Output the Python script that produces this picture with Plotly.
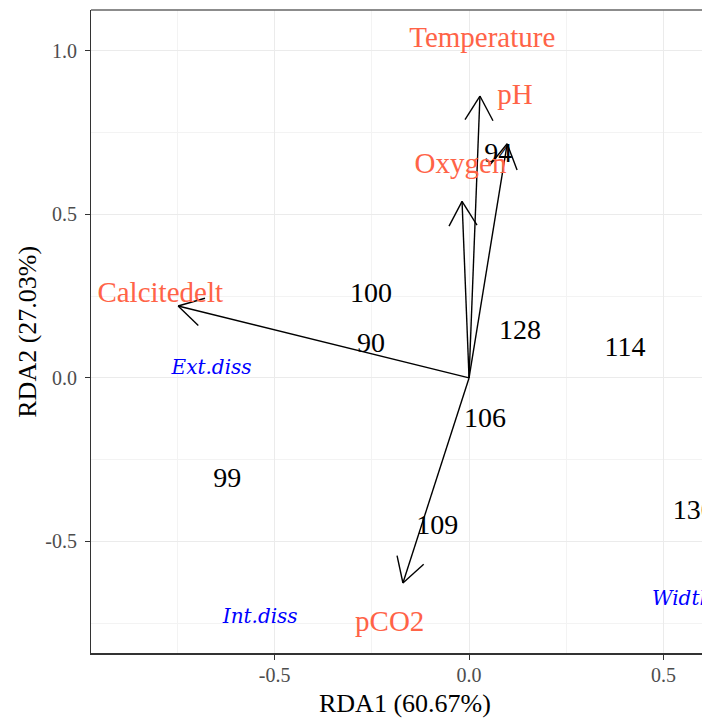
import numpy as np
import plotly.graph_objects as go

# ---- data ----
env_names = ["Temperature", "pH", "Oxygen", "Calcitedelt", "pCO2"]
env_x = [0.028, 0.098, -0.018, -0.748, -0.170]
env_y = [0.862, 0.716, 0.540, 0.220, -0.627]
env_label_x = [0.034, 0.118, -0.022, -0.794, -0.204]
env_label_y = [1.034, 0.859, 0.648, 0.254, -0.752]

site_names = ["100", "90", "128", "114", "106", "99", "109", "130", "94"]
site_x = [-0.252, -0.252, 0.131, 0.401, 0.041, -0.622, -0.082, 0.578, 0.075]
site_y = [0.254, 0.101, 0.141, 0.089, -0.128, -0.312, -0.456, -0.410, 0.682]

species_names = ["Ext.diss", "Int.diss", "Width"]
species_x = [-0.662, -0.537, 0.548]
species_y = [0.028, -0.734, -0.679]

x_ticks = [-0.5, 0.0, 0.5]
x_ticktext = ["-0.5", "0.0", "0.5"]
y_ticks = [-0.5, 0.0, 0.5, 1.0]
y_ticktext = ["-0.5", "0.0", "0.5", "1.0"]

# ---- layout geometry (page body has an 8px margin) ----
W, H = 702, 713
ML, MR, MT, MB = 83, 0, 2, 68
xr = [-0.972, 0.6195]
yr = [-0.841, 1.125]
sx = (W - ML - MR) / (xr[1] - xr[0])
sy = (H - MT - MB) / (yr[1] - yr[0])

SERIF = "Liberation Serif"

fig = go.Figure()

# arrow shafts
lx, ly = [], []
for x, y in zip(env_x, env_y):
    lx += [0, x, None]
    ly += [0, y, None]

# open arrow heads (computed in pixel space)
head_len = 28.0
ang = np.deg2rad(30)
hx, hy = [], []
for x, y in zip(env_x, env_y):
    px, py = x * sx, y * sy
    n = np.hypot(px, py)
    ux, uy = px / n, py / n
    for s in (ang, -ang):
        rx = ux * np.cos(s) - uy * np.sin(s)
        ry = ux * np.sin(s) + uy * np.cos(s)
        bx = px - head_len * rx
        by = py - head_len * ry
        hx += [bx / sx, x, None]
        hy += [by / sy, y, None]

fig.add_trace(go.Scatter(x=lx + hx, y=ly + hy, mode="lines",
                         line=dict(color="black", width=1.4),
                         hoverinfo="skip", showlegend=False))

fig.add_trace(go.Scatter(x=site_x, y=site_y, text=site_names, mode="text",
                         textposition="middle center",
                         textfont=dict(family=SERIF, size=28, color="black"),
                         showlegend=False))

fig.add_trace(go.Scatter(x=species_x, y=species_y,
                         text=["<i>%s</i>" % s for s in species_names], mode="text",
                         textposition="middle center",
                         textfont=dict(family="DejaVu Serif", size=20, color="blue"),
                         showlegend=False))

fig.add_trace(go.Scatter(x=env_label_x, y=env_label_y, text=env_names, mode="text",
                         textposition="middle center",
                         textfont=dict(family=SERIF, size=29, color="#FF6347"),
                         showlegend=False))

axis_common = dict(
    showgrid=True, gridcolor="#EBEBEB", gridwidth=1.2,
    zeroline=False, ticks="outside", ticklen=5, tickcolor="#333333", tickwidth=1.1,
    tickfont=dict(family=SERIF, size=20, color="#4D4D4D"),
    showline=True, linecolor="#333333",
)

fig.update_xaxes(range=xr, tickmode="array", tickvals=x_ticks, ticktext=x_ticktext,
                 minor=dict(tick0=0.25, dtick=0.5, showgrid=True, gridcolor="#F3F3F3",
                            gridwidth=0.7, ticks=""),
                 linewidth=2, ticklabelstandoff=-2, **axis_common)
fig.update_yaxes(range=yr, tickmode="array", tickvals=y_ticks, ticktext=y_ticktext,
                 minor=dict(tick0=0.25, dtick=0.5, showgrid=True, gridcolor="#F3F3F3",
                            gridwidth=0.7, ticks=""),
                 linewidth=1.2, ticklabelstandoff=4, **axis_common)

fig.update_layout(
    width=W, height=H,
    margin=dict(l=ML, r=MR, t=MT, b=MB, pad=0),
    plot_bgcolor="white", paper_bgcolor="white",
    shapes=[dict(type="line", xref="paper", yref="paper", x0=0, x1=1, y0=1, y1=1,
                 line=dict(color="#666666", width=1.5))],
    annotations=[
        dict(text="RDA1 (60.67%)", xref="paper", yref="paper", x=0.507, y=-0.079,
             xanchor="center", yanchor="middle", showarrow=False,
             font=dict(family=SERIF, size=26, color="black")),
        dict(text="RDA2 (27.03%)", xref="paper", yref="paper", x=-0.103, y=0.5,
             xanchor="center", yanchor="middle", showarrow=False, textangle=-90,
             font=dict(family=SERIF, size=26, color="black")),
    ],
)

fig.write_html("out.html")
